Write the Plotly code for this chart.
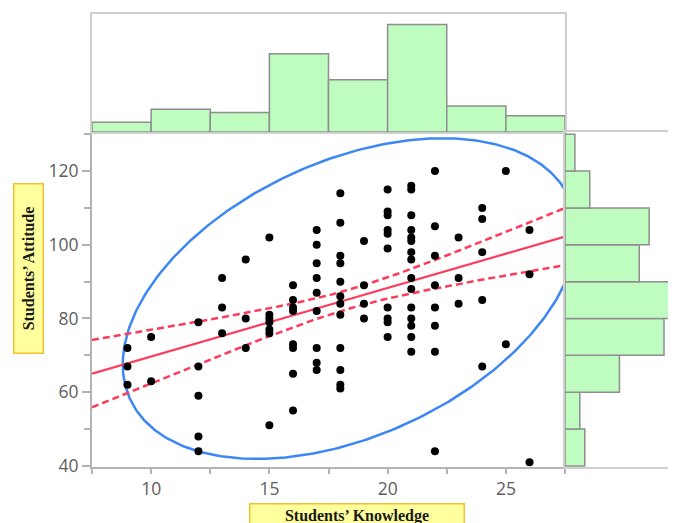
import numpy as np
import plotly.graph_objects as go

# ---- data (Students' Knowledge vs Students' Attitude) ----
knowledge = ([9] * 3 + [10] * 2 + [12] * 5 + [13] * 3 + [14] * 3 + [15] * 7 + [16] * 8 +
             [17] * 9 + [18] * 12 + [19] * 4 + [20] * 10 + [21] * 15 + [22] * 8 +
             [23] * 3 + [24] * 5 + [25] * 2 + [26] * 3)
attitude = ([72, 67, 62] +
            [75, 63] +
            [79, 67, 59, 48, 44] +
            [91, 83, 76] +
            [96, 80, 72] +
            [102, 81, 80, 79, 77, 76, 51] +
            [89, 85, 83, 82, 73, 72, 65, 55] +
            [104, 100, 95, 91, 87, 82, 72, 68, 66] +
            [114, 106, 97, 95, 90, 86, 84, 81, 72, 66, 62, 61] +
            [101, 89, 84, 80] +
            [115, 109, 108, 104, 103, 99, 83, 80, 79, 75] +
            [116, 115, 108, 104, 102, 101, 98, 96, 91, 88, 83, 80, 78, 75, 71] +
            [120, 105, 97, 89, 83, 78, 71, 44] +
            [102, 91, 84] +
            [110, 107, 98, 85, 67] +
            [120, 73] +
            [104, 92, 41])

x_bin_edges = [7.5, 10, 12.5, 15, 17.5, 20, 22.5, 25, 27.5]
y_bin_edges = [40, 50, 60, 70, 80, 90, 100, 110, 120, 130]
x_tick_vals = [10, 15, 20, 25]
y_tick_vals = [40, 60, 80, 100, 120]

# fit summaries
mean_x, mean_y = 18.4, 85.4          # centre of density ellipse
ell_half_x, ell_half_y = 9.6, 43.5   # half extents of ellipse
ell_rho = 0.41                       # correlation
fit_slope = 1.86                     # regression line slope
fit_y_at_mean = 85.3
band_a, band_b = 6.6, 0.647          # confidence band: sqrt(a + b*(x-mean_x)^2)

# ---- derived geometry ----
kx = np.array(knowledge, float)
ay = np.array(attitude, float)
top_counts, _ = np.histogram(kx, bins=x_bin_edges)
right_counts, _ = np.histogram(ay, bins=y_bin_edges)
xe = np.array(x_bin_edges)
ye = np.array(y_bin_edges)
x_centers = (xe[:-1] + xe[1:]) / 2
y_centers = (ye[:-1] + ye[1:]) / 2

t = np.linspace(0, 2 * np.pi, 400)
ell_x = mean_x + ell_half_x * np.cos(t)
ell_y = mean_y + ell_half_y * (ell_rho * np.cos(t) + np.sqrt(1 - ell_rho ** 2) * np.sin(t))

lx = np.linspace(x_bin_edges[0], x_bin_edges[-1], 200)
fit_y = fit_y_at_mean + fit_slope * (lx - mean_x)
hw = np.sqrt(band_a + band_b * (lx - mean_x) ** 2)

# ---- figure ----
W, H = 676, 523
OFF = 8  # page body margin offset
px = lambda p: (p - OFF) / W
py = lambda p: 1 - (p - OFF) / H

GREEN = '#bffcbf'
BAR_LINE = '#8e8e8e'
AX = '#b4b4b4'
FRAME = '#cfcfcf'
RED = '#ff3b5c'
BLUE = '#3d86f5'
TICKF = dict(family='Open Sans', size=17.5, color='#5e5e5e')

fig = go.Figure()

fig.add_trace(go.Bar(x=x_centers, y=top_counts, width=2.5, xaxis='x2', yaxis='y2',
                     marker=dict(color=GREEN, line=dict(color=BAR_LINE, width=1.5))))
fig.add_trace(go.Bar(y=y_centers, x=right_counts, width=10, orientation='h',
                     xaxis='x3', yaxis='y3',
                     marker=dict(color=GREEN, line=dict(color=BAR_LINE, width=1.5))))

fig.add_trace(go.Scatter(x=ell_x, y=ell_y, mode='lines',
                         line=dict(color=BLUE, width=2.5)))
fig.add_trace(go.Scatter(x=lx, y=fit_y + hw, mode='lines',
                         line=dict(color=RED, width=2.5, dash='7px,4px')))
fig.add_trace(go.Scatter(x=lx, y=fit_y - hw, mode='lines',
                         line=dict(color=RED, width=2.5, dash='7px,4px')))
fig.add_trace(go.Scatter(x=lx, y=fit_y, mode='lines',
                         line=dict(color=RED, width=2.2)))
fig.add_trace(go.Scatter(x=knowledge, y=attitude, mode='markers',
                         marker=dict(color='black', size=8)))

x_dom = [px(92), px(565)]
y_dom = [py(467), py(132)]
right_dom = [px(565), 1.0]
right_px = W - (565 - OFF)

common = dict(automargin=False, showgrid=False, zeroline=False)
fig.update_layout(
    width=W, height=H, margin=dict(l=0, r=0, t=0, b=0),
    paper_bgcolor='white', plot_bgcolor='white', showlegend=False,
    xaxis=dict(domain=x_dom, range=[7.5, 27.5], anchor='y',
               showline=True, linecolor=AX, linewidth=2,
               ticks='outside', ticklen=5, tickcolor=AX, tickwidth=1.5,
               tickvals=x_tick_vals, tickfont=TICKF,
               minor=dict(ticks='outside', ticklen=5, tickcolor=AX, dtick=2.5, tick0=7.5),
               **common),
    yaxis=dict(domain=y_dom, range=[39.7, 130.6], anchor='x',
               showline=True, linecolor=AX, linewidth=2,
               ticks='outside', ticklen=8, tickcolor=AX, tickwidth=1.5,
               tickvals=y_tick_vals, tickfont=TICKF,
               minor=dict(ticks='outside', ticklen=6, tickcolor=AX, dtick=10, tick0=40),
               **common),
    xaxis2=dict(domain=x_dom, matches='x', anchor='y2', showticklabels=False,
                showline=True, mirror=True, linecolor=FRAME, linewidth=1.5,
                ticks='', **common),
    yaxis2=dict(domain=[py(132), py(14.3)], range=[0, 36.1], anchor='x2',
                showticklabels=False, showline=True, mirror=True, linecolor=FRAME,
                linewidth=1.5, ticks='', **common),
    xaxis3=dict(domain=right_dom, range=[0, right_px / 4.95], anchor='y3',
                showticklabels=False, showline=True, mirror=True, linecolor=FRAME,
                linewidth=1.5, ticks='', **common),
    yaxis3=dict(domain=y_dom, matches='y', anchor='x3', showticklabels=False,
                showline=True, mirror=True, linecolor=FRAME, linewidth=1.5,
                ticks='', **common),
)

LBL = dict(family='Liberation Serif', size=16, color='#1a1a1a')
fig.add_annotation(text='<b>Students’ Knowledge</b>', xref='paper', yref='paper',
                   x=px(357.5), y=py(515), xanchor='center', yanchor='middle',
                   showarrow=False, font=LBL, width=213, height=22,
                   bgcolor='#ffff9e', bordercolor='#f2c230', borderwidth=1.5, borderpad=0)
fig.add_annotation(text='<b>Students’ Attitude</b>', xref='paper', yref='paper',
                   x=px(28), y=py(269), xanchor='center', yanchor='middle',
                   showarrow=False, font=LBL, width=168, height=28, textangle=-90,
                   bgcolor='#ffff9e', bordercolor='#f2c230', borderwidth=1.5, borderpad=0)

fig.write_html('out.html')
